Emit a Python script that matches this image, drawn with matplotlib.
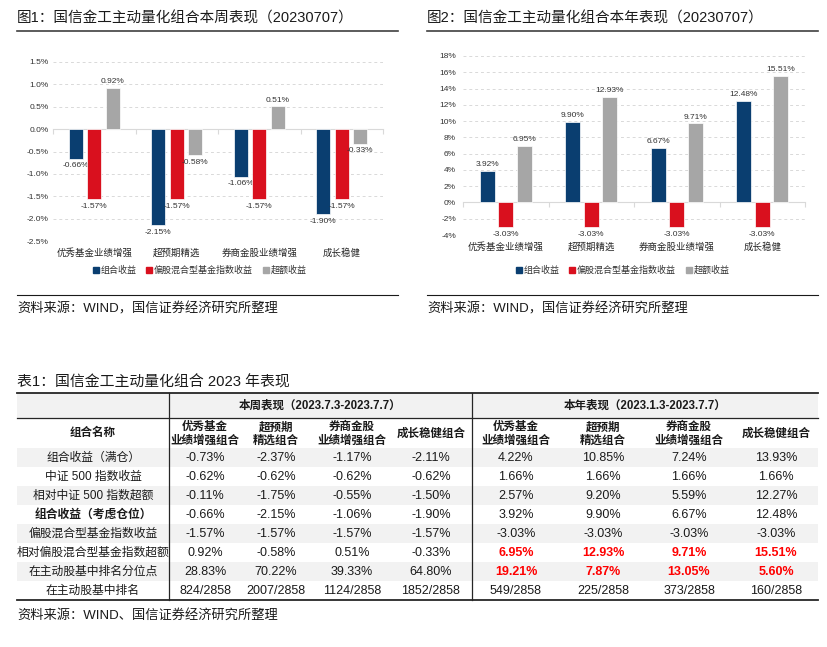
import matplotlib
matplotlib.use("Agg")
import matplotlib.pyplot as plt
from matplotlib.lines import Line2D
from matplotlib.patches import Rectangle
import numpy as np

plt.rcParams['font.family'] = ['Liberation Sans', 'Noto Sans CJK SC']
plt.rcParams['axes.unicode_minus'] = False

## datos
categorias = ['优秀基金业绩增强', '超预期精选', '券商金股业绩增强', '成长稳健']
series = ['组合收益', '偏股混合型基金指数收益', '超额收益']
semana_cartera = [-0.66, -2.15, -1.06, -1.90]
semana_indice = [-1.57, -1.57, -1.57, -1.57]
semana_exceso = [0.92, -0.58, 0.51, -0.33]
anio_cartera = [3.92, 9.90, 6.67, 12.48]
anio_indice = [-3.03, -3.03, -3.03, -3.03]
anio_exceso = [6.95, 12.93, 9.71, 15.51]

tabla_titulo = '表1：国信金工主动量化组合 2023 年表现'
cab_semana = '本周表现（2023.7.3-2023.7.7）'
cab_anio = '本年表现（2023.1.3-2023.7.7）'
cab_nombre = '组合名称'
cab_columnas = ['优秀基金\n业绩增强组合', '超预期\n精选组合', '券商金股\n业绩增强组合', '成长稳健组合']
filas = ['组合收益（满仓）', '中证 500 指数收益', '相对中证 500 指数超额', '组合收益（考虑仓位）',
         '偏股混合型基金指数收益', '相对偏股混合型基金指数超额', '在主动股基中排名分位点', '在主动股基中排名']
tabla_semana = [
    ['-0.73%', '-2.37%', '-1.17%', '-2.11%'],
    ['-0.62%', '-0.62%', '-0.62%', '-0.62%'],
    ['-0.11%', '-1.75%', '-0.55%', '-1.50%'],
    ['-0.66%', '-2.15%', '-1.06%', '-1.90%'],
    ['-1.57%', '-1.57%', '-1.57%', '-1.57%'],
    ['0.92%', '-0.58%', '0.51%', '-0.33%'],
    ['28.83%', '70.22%', '39.33%', '64.80%'],
    ['824/2858', '2007/2858', '1124/2858', '1852/2858'],
]
tabla_anio = [
    ['4.22%', '10.85%', '7.24%', '13.93%'],
    ['1.66%', '1.66%', '1.66%', '1.66%'],
    ['2.57%', '9.20%', '5.59%', '12.27%'],
    ['3.92%', '9.90%', '6.67%', '12.48%'],
    ['-3.03%', '-3.03%', '-3.03%', '-3.03%'],
    ['6.95%', '12.93%', '9.71%', '15.51%'],
    ['19.21%', '7.87%', '13.05%', '5.60%'],
    ['549/2858', '225/2858', '373/2858', '160/2858'],
]

AZUL = '#0a3e70'
ROJO = '#d9101e'
GRIS = '#a6a6a6'
colores = [AZUL, ROJO, GRIS]

W, H = 827, 647
fig = plt.figure(figsize=(8.27, 6.47), dpi=100)

## ejes de fondo en pixeles para textos, lineas y tabla
bg = fig.add_axes([0, 0, 1, 1])
bg.set_xlim(0, W)
bg.set_ylim(H, 0)
bg.axis('off')


def ejes_px(x0, y0, x1, y1):
    return fig.add_axes([x0 / W, 1 - y1 / H, (x1 - x0) / W, (y1 - y0) / H])


def grafico(ax, datos, ylim, yticks, fmt, ancho, despl, pad):
    x = np.arange(len(categorias))
    for k, (vals, c) in enumerate(zip(datos, colores)):
        pos = x + (k - 1) * despl
        ax.bar(pos, vals, ancho, color=c, edgecolor='white', linewidth=0.5, zorder=3)
        for p, v in zip(pos, vals):
            if v >= 0:
                ax.annotate(f'{v:.2f}%', (p, v), xytext=(0, 2), textcoords='offset points',
                            ha='center', va='bottom', fontsize=6, color='#333333')
            else:
                ax.annotate(f'{v:.2f}%', (p, v), xytext=(0, -2.5), textcoords='offset points',
                            ha='center', va='top', fontsize=6, color='#333333',
                            annotation_clip=False)
    ax.set_xlim(-0.5, len(categorias) - 0.5)
    ax.set_ylim(*ylim)
    ax.set_yticks(yticks)
    ax.set_yticklabels([fmt(t) for t in yticks], fontsize=6, color='#333333')
    ax.tick_params(axis='y', length=0, pad=pad)
    for t in yticks:
        if t != 0:
            ax.axhline(t, color='#d9d9d9', lw=0.7, ls=(0, (3, 3)), zorder=1)
    for s in ['top', 'right', 'left']:
        ax.spines[s].set_visible(False)
    ax.spines['bottom'].set_position(('data', 0))
    ax.spines['bottom'].set_color('#d9d9d9')
    ax.spines['bottom'].set_linewidth(0.8)
    ax.set_xticks(np.arange(len(categorias) + 1) - 0.5)
    ax.set_xticklabels([])
    ax.tick_params(axis='x', length=3.5, color='#d9d9d9', direction='out')
    for i, c in enumerate(categorias):
        ax.annotate(c, (i, 0), xycoords=('data', 'axes fraction'), xytext=(0, -8.6),
                    textcoords='offset points', ha='center', va='center', fontsize=6.8,
                    color='#262626', annotation_clip=False)


ax1 = ejes_px(53, 62, 383, 241)
grafico(ax1, [semana_cartera, semana_indice, semana_exceso], (-2.5, 1.5),
        np.arange(-2.5, 1.51, 0.5), lambda t: f'{t:.1f}%', 0.17, 0.223, 3)

ax2 = ejes_px(463, 56, 805, 235)
grafico(ax2, [anio_cartera, anio_indice, anio_exceso], (-4, 18),
        np.arange(-4, 18.1, 2), lambda t: f'{t:.0f}%', 0.175, 0.218, 5)

manejadores = [Line2D([], [], marker='s', ls='', color=c, markersize=4) for c in colores]
for cx in [199, 622]:
    fig.legend(manejadores, series, loc='center', bbox_to_anchor=(cx / W, 1 - 270 / H),
               ncol=3, frameon=False, fontsize=6.5, handletextpad=0.05, columnspacing=1.0,
               handlelength=0.9, labelcolor='#333333')

## titulos y fuentes de los graficos
for x0, x1, tit in [(17, 398, '图1：国信金工主动量化组合本周表现（20230707）'),
                    (427, 818, '图2：国信金工主动量化组合本年表现（20230707）')]:
    bg.text(x0, 19, tit, fontsize=10.5, ha='left', va='center', color='#1a1a1a')
    bg.plot([x0, x1], [31, 31], color='#404040', lw=1.2)
    bg.plot([x0, x1], [294.5, 294.5], color='#1a1a1a', lw=0.8)
    bg.text(x0, 309, '资料来源：WIND，国信证券经济研究所整理', fontsize=9.5, ha='left',
            va='center', color='#1a1a1a')

## tabla
XL, XR = 17, 818
V1, V2 = 169, 472
y_top, y_h1, y_h2 = 393, 418, 448
alto = 19
bg.text(17, 382, tabla_titulo, fontsize=10.7, ha='left', va='center', color='#1a1a1a')
bg.add_patch(Rectangle((XL, y_top), XR - XL, y_h1 - y_top, color='#f2f2f2', lw=0))
for i in range(len(filas)):
    if i % 2 == 0:
        bg.add_patch(Rectangle((XL, y_h2 + i * alto), XR - XL, alto, color='#f2f2f2', lw=0))
y_bot = y_h2 + len(filas) * alto
bg.plot([XL, XR], [y_top, y_top], color='#262626', lw=1.3)
bg.plot([XL, XR], [y_h1, y_h1], color='#262626', lw=0.9)
bg.plot([XL, XR], [y_bot, y_bot], color='#262626', lw=1.3)
bg.plot([V1, V1], [y_top, y_bot], color='#262626', lw=0.9)
bg.plot([V2, V2], [y_top, y_bot], color='#262626', lw=0.9)

cx_sem = [205, 276, 352, 431]
cx_ani = [516, 603, 689, 776]
fs = 8.3
bg.text((V1 + V2) / 2, (y_top + y_h1) / 2, cab_semana, fontsize=fs, fontweight='bold',
        ha='center', va='center', color='#1a1a1a')
bg.text((V2 + XR) / 2, (y_top + y_h1) / 2, cab_anio, fontsize=fs, fontweight='bold',
        ha='center', va='center', color='#1a1a1a')
bg.text(93, (y_h1 + y_h2) / 2, cab_nombre, fontsize=fs, fontweight='bold',
        ha='center', va='center', color='#1a1a1a')
for cols in [cx_sem, cx_ani]:
    for cx, t in zip(cols, cab_columnas):
        bg.text(cx, (y_h1 + y_h2) / 2 + 1, t, fontsize=fs, fontweight='bold', ha='center',
                va='center', color='#1a1a1a', linespacing=1.15)
for i, nombre in enumerate(filas):
    yc = y_h2 + i * alto + alto / 2 + 0.5
    bg.text(93, yc, nombre, fontsize=fs + 0.2, ha='center', va='center', color='#1a1a1a',
            fontweight='bold' if i == 3 else 'normal')
    for cx, v in zip(cx_sem, tabla_semana[i]):
        bg.text(cx, yc, v, fontsize=fs + 0.7, ha='center', va='center', color='#1a1a1a')
    rojo = i in (5, 6)
    for cx, v in zip(cx_ani, tabla_anio[i]):
        bg.text(cx, yc, v, fontsize=fs + 0.7, ha='center', va='center',
                color='#ff0000' if rojo else '#1a1a1a', fontweight='bold' if rojo else 'normal')

bg.text(17, 615, '资料来源：WIND、国信证券经济研究所整理', fontsize=9.5, ha='left', va='center',
        color='#1a1a1a')

fig.savefig('out.png', dpi=100)
